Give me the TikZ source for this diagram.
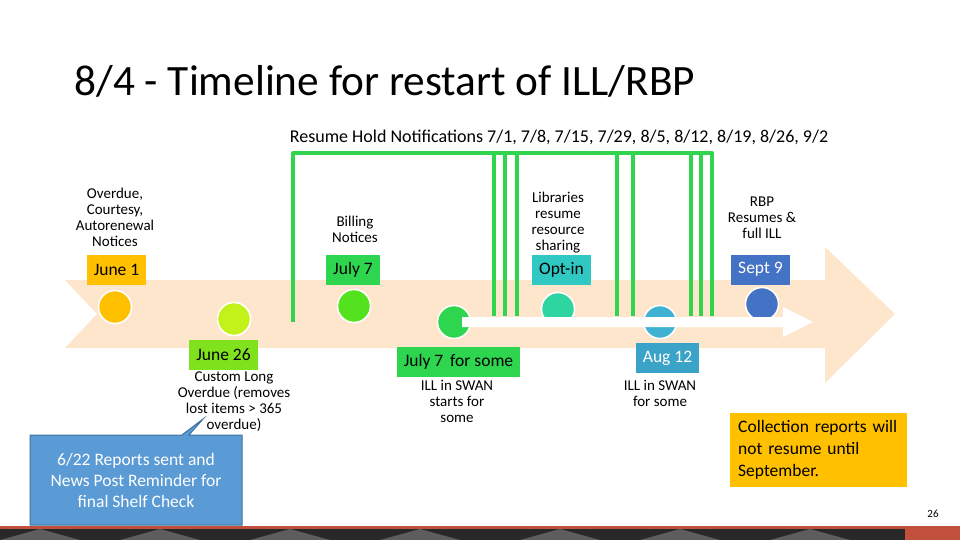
\documentclass[tikz,border=0pt]{standalone}
\usepackage{fontspec}
\setmainfont{Carlito}
\usetikzlibrary{shapes.callouts}
\definecolor{peach}{RGB}{253,230,204}
\definecolor{holdgreen}{RGB}{51,212,77}
\definecolor{gold}{RGB}{255,192,0}
\definecolor{limebox}{RGB}{128,226,28}
\definecolor{limedot}{RGB}{194,242,26}
\definecolor{greenbox}{RGB}{46,214,80}
\definecolor{greendot}{RGB}{85,226,30}
\definecolor{tealbox}{RGB}{47,200,194}
\definecolor{tealdot}{RGB}{47,213,160}
\definecolor{aquabox}{RGB}{59,163,200}
\definecolor{aquadot}{RGB}{62,178,208}
\definecolor{royal}{RGB}{68,114,196}
\definecolor{callfill}{RGB}{91,155,213}
\definecolor{calldraw}{RGB}{65,113,156}
\definecolor{banddark}{RGB}{40,40,40}
\definecolor{bandred}{RGB}{192,80,60}
\tikzset{
    datebox/.style={rectangle, inner xsep=7pt, inner ysep=0pt, minimum height=30pt, font=\fontsize{17.5}{19}\selectfont, text=black},
    dot/.style={circle, draw=white, line width=1.5pt, minimum size=33pt, inner sep=0pt},
    note/.style={align=center, font=\fontsize{15}{16}\selectfont},
    hold/.style={line width=4pt, draw=holdgreen, line join=round},
}

\begin{document}
\begin{tikzpicture}[x=1pt, y=-1pt]
    \useasboundingbox (0,0) rectangle (960,540);
    % title and heading
    \node[anchor=base west, font=\fontsize{43.3}{46}\selectfont] (title) at (71,96) {8/4 - Timeline for restart of ILL/RBP};
    \node[font=\fontsize{18}{20}\selectfont] (resume) at (559,137) {Resume Hold Notifications 7/1, 7/8, 7/15, 7/29, 8/5, 8/12, 8/19, 8/26, 9/2};
    % big arrow
    \fill[peach] (65,280) -- (825,280) -- (825,247) -- (895,314) -- (825,383) -- (825,348) -- (65,348) -- (97,314) -- cycle;
    % hold notification bracket
    \draw[hold] (293,322) -- (293,153) -- (712,153) -- (712,316);
    \foreach \x in {494,505,517,617,633,691,701}
        \draw[hold] (\x,153) -- (\x,316);
    % dots
    \node[dot, fill=gold] (d1) at (115,307) {};
    \node[dot, fill=limedot] (d2) at (234,319) {};
    \node[dot, fill=greendot] (d3) at (354,306) {};
    \node[dot, fill=greenbox] (d4) at (454,322) {};
    \node[dot, fill=tealdot] (d5) at (558,309) {};
    \node[dot, fill=aquadot] (d6) at (660,322) {};
    \node[dot, fill=royal] (d7) at (762,304) {};
    % white arrow
    \fill[white] (462,317) -- (783,317) -- (783,307) -- (813,322) -- (783,337) -- (783,327) -- (462,327) -- cycle;
    % dates
    \node[datebox, fill=gold] (june1) at (116.5,270) {June 1};
    \node[datebox, fill=greenbox] (july7) at (353,269.5) {July 7};
    \node[datebox, fill=tealbox] (optin) at (561.5,269.5) {Opt-in};
    \node[datebox, fill=royal, text=white] (sept9) at (760.5,269.5) {Sept 9};
    \node[datebox, fill=limebox] (june26) at (223.5,355) {June 26};
    \node[datebox, fill=greenbox] (july7some) at (458.5,362) {July 7\, for some};
    \node[datebox, fill=aquabox, text=white] (aug12) at (667.5,358) {Aug 12};
    % notes
    \node[note] (overdue) at (115,217) {Overdue,\\Courtesy,\\Autorenewal\\Notices};
    \node[note] (billing) at (355,229) {Billing\\Notices};
    \node[note] (libraries) at (558,223) {Libraries\\resume\\resource\\sharing};
    \node[note] (rbp) at (762,218) {RBP\\Resumes \&\\full ILL};
    \node[note] (custom) at (234,401.5) {Custom Long\\Overdue (removes\\lost items > 365\\overdue)};
    \node[note] (swan) at (457,401.5) {ILL in SWAN\\starts for\\some};
    \node[note] (swansome) at (660,393) {ILL in SWAN\\for some};
    % reports
    \node[rectangle callout, callout absolute pointer={(203,419)}, fill=callfill, draw=calldraw, line width=1pt,
        minimum width=212pt, minimum height=90pt, text=white, align=center,
        font=\fontsize{17.5}{21}\selectfont] (reports) at (136,480) {6/22 Reports sent and\\News Post Reminder for\\final Shelf Check};
    \node[anchor=north west, fill=gold, text width=168pt, minimum height=74pt, inner xsep=4.5pt, inner ysep=4pt, align=left,
        font=\fontsize{17.5}{22}\selectfont] (collection) at (730,413) {\hspace*{3.5pt}Collection reports will\\\hspace*{3.5pt}not resume until\\\hspace*{3.5pt}September.};
    \node[font=\fontsize{11}{13}\selectfont] (page) at (933,514) {26};
    % bottom band
    \fill[banddark] (0,528) rectangle (960,540);
    \foreach \x in {0,120,250,380,520,640,770}
        \fill[gray!60!banddark] (\x,540) -- (\x+40,529) -- (\x+80,540) -- cycle;
    \fill[bandred] (905,528) rectangle (960,540);
    \fill[bandred] (0,526) rectangle (960,529);
\end{tikzpicture}
\end{document}
